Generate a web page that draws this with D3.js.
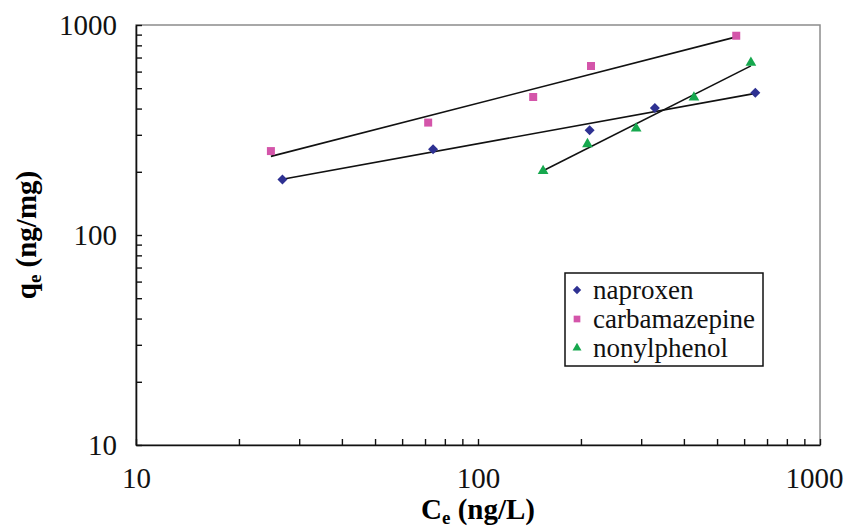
<!DOCTYPE html>
<html>
<head>
<meta charset="utf-8">
<script src="https://cdn.jsdelivr.net/npm/d3@7"></script>
<style>
  body { margin: 0; background: #fff; }
  svg text { font-family: "Liberation Serif", "DejaVu Serif", "Times New Roman", serif; }
</style>
</head>
<body>
<script>
// values (log-log adsorption isotherms)
const seriesNames = ["naproxen", "carbamazepine", "nonylphenol"];
const seriesColors = ["#2e3192", "#d455aa", "#16a84e"];

const naproxenCe = [26.8, 73.9, 212, 329, 647];
const naproxenQe = [184, 256, 315, 403, 476];
const carbamazepineCe = [24.8, 71.5, 145, 214, 569];
const carbamazepineQe = [251, 343, 454, 638, 889];
const nonylphenolCe = [155, 209, 290, 428, 628];
const nonylphenolQe = [202, 271, 322, 452, 661];

const xTickLabels = [10, 100, 1000];
const yTickLabels = [10, 100, 1000];

const series = [
  {name: seriesNames[0], color: seriesColors[0], shape: "diamond", ce: naproxenCe, qe: naproxenQe},
  {name: seriesNames[1], color: seriesColors[1], shape: "square", ce: carbamazepineCe, qe: carbamazepineQe},
  {name: seriesNames[2], color: seriesColors[2], shape: "triangle", ce: nonylphenolCe, qe: nonylphenolQe}
];

const serif = "'Liberation Serif', 'DejaVu Serif', serif";

const margin = {top: 25, right: 25, bottom: 86, left: 136},
      width = 845 - margin.left - margin.right,
      height = 531 - margin.top - margin.bottom;

const svg = d3.select("body").append("svg")
    .attr("width", 845)
    .attr("height", 531);

const g = svg.append("g")
    .attr("transform", `translate(${margin.left},${margin.top})`);

const x = d3.scaleLog().domain([10, 1000]).range([0, width]);
const y = d3.scaleLog().domain([10, 1000]).range([height, 0]);

// minor + major tick positions (1..9 per decade)
const logTicks = [];
[10, 100].forEach(d => { for (let k = 1; k < 10; k++) logTicks.push(d * k); });
logTicks.push(1000);

// gray frame (top/right)
g.append("rect")
    .attr("width", width)
    .attr("height", height)
    .attr("fill", "none")
    .attr("stroke", "#8c8c8c")
    .attr("stroke-width", 1.5);

const xAxis = g.append("g")
    .attr("transform", `translate(0,${height})`)
    .call(d3.axisBottom(x)
      .tickValues(logTicks)
      .tickSize(-6)
      .tickSizeOuter(0)
      .tickPadding(22)
      .tickFormat(d => xTickLabels.includes(d) ? d : ""));

const yAxis = g.append("g")
    .call(d3.axisLeft(y)
      .tickValues(logTicks)
      .tickSize(-6)
      .tickSizeOuter(0)
      .tickPadding(19)
      .tickFormat(d => yTickLabels.includes(d) ? d : ""));

[xAxis, yAxis].forEach(ax => {
  ax.attr("font-family", null);
  ax.select(".domain").attr("stroke", "#111").attr("stroke-width", 1.6);
  ax.selectAll(".tick line").attr("stroke", "#111").attr("stroke-width", 1.4);
  ax.selectAll(".tick text")
      .attr("fill", "#111")
      .style("font-family", serif)
      .style("font-size", "29px");
});
xAxis.selectAll(".tick text").filter(d => d === 1000).attr("dx", -6);

// power-law trend line fitted in log space
function fit(ce, qe) {
  const lx = ce.map(Math.log10), ly = qe.map(Math.log10);
  const mx = d3.mean(lx), my = d3.mean(ly);
  const b = d3.sum(lx, (v, i) => (v - mx) * (ly[i] - my)) / d3.sum(lx, v => (v - mx) * (v - mx));
  const a = my - b * mx;
  const [x0, x1] = d3.extent(ce);
  return [x0, x1].map(c => [c, Math.pow(10, a + b * Math.log10(c))]);
}

const line = d3.line()
    .x(d => x(d[0]))
    .y(d => y(d[1]));

series.forEach(s => {
  g.append("path")
      .datum(fit(s.ce, s.qe))
      .attr("d", line)
      .attr("fill", "none")
      .attr("stroke", "#111")
      .attr("stroke-width", 1.6);
});

function symbolPath(shape, scale) {
  if (shape === "diamond") return d3.symbol(d3.symbolSquare, 50 * scale)();
  if (shape === "square") return d3.symbol(d3.symbolSquare, 64 * scale)();
  return d3.symbol(d3.symbolTriangle, 50 * scale)();
}

series.forEach(s => {
  g.append("g").selectAll("path")
      .data(s.ce.map((c, i) => [c, s.qe[i]]))
    .enter().append("path")
      .attr("d", symbolPath(s.shape, 1))
      .attr("transform", d => `translate(${x(d[0])},${y(d[1])})` + (s.shape === "diamond" ? " rotate(45)" : ""))
      .attr("fill", s.color);
});

// x-axis title
const xt = svg.append("text")
    .attr("x", margin.left + width / 2)
    .attr("y", 519)
    .attr("text-anchor", "middle")
    .style("font-family", serif)
    .style("font-size", "29px")
    .style("font-weight", "bold");
xt.append("tspan").text("C");
xt.append("tspan").attr("dy", 5).style("font-size", "19px").text("e");
xt.append("tspan").attr("dy", -5).text(" (ng/L)");

// y-axis title
const yt = svg.append("text")
    .attr("transform", `translate(36,${margin.top + height / 2}) rotate(-90)`)
    .attr("text-anchor", "middle")
    .style("font-family", serif)
    .style("font-size", "29px")
    .style("font-weight", "bold");
yt.append("tspan").text("q");
yt.append("tspan").attr("dy", 5).style("font-size", "19px").text("e");
yt.append("tspan").attr("dy", -5).text(" (ng/mg)");

// legend
const legend = svg.append("g")
    .attr("transform", "translate(565,273)");

legend.append("rect")
    .attr("width", 198)
    .attr("height", 93)
    .attr("fill", "#fff")
    .attr("stroke", "#111")
    .attr("stroke-width", 1.5);

const item = legend.selectAll(".item")
    .data(series)
  .enter().append("g")
    .attr("transform", (d, i) => `translate(12,${17 + i * 29})`);

item.append("path")
    .attr("d", d => symbolPath(d.shape, 0.7))
    .attr("transform", d => d.shape === "diamond" ? "rotate(45)" : "")
    .attr("fill", d => d.color);

item.append("text")
    .attr("x", 16)
    .attr("dy", "0.32em")
    .style("font-family", serif)
    .style("font-size", "27px")
    .attr("fill", "#111")
    .text(d => d.name);
</script>
</body>
</html>
